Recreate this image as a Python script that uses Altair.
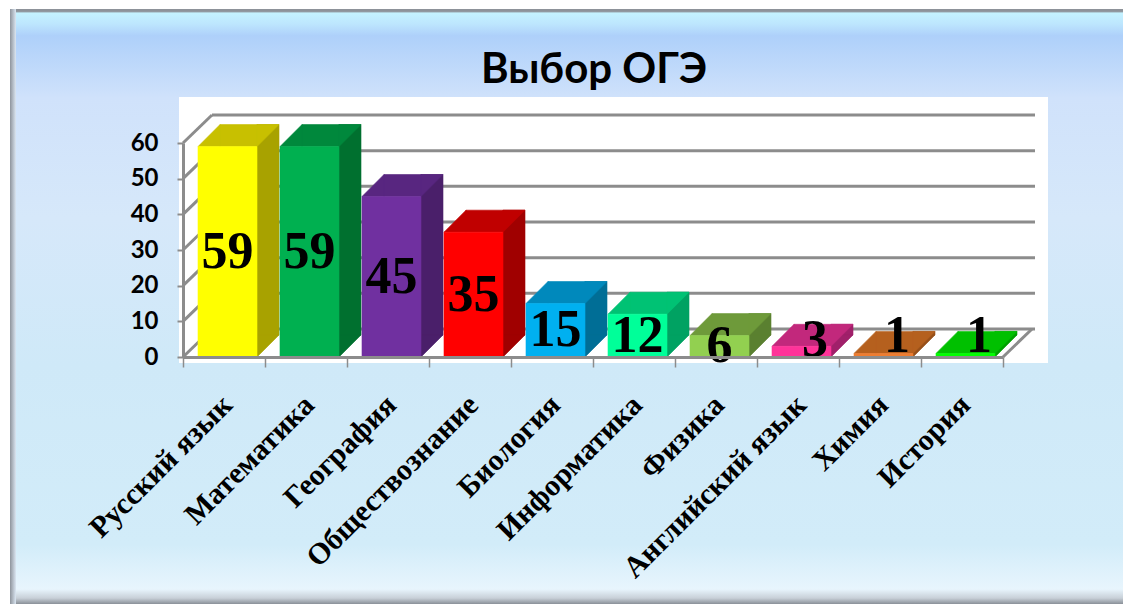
import altair as alt
import pandas as pd

categories = ["Русский язык", "Математика", "География", "Обществознание", "Биология",
              "Информатика", "Физика", "Английский язык", "Химия", "История"]
values = [59, 59, 45, 35, 15, 12, 6, 3, 1, 1]
front_colors = ["#FFFF00", "#00B050", "#7030A0", "#FF0000", "#00B0F0",
                "#00FF99", "#92D050", "#FF3399", "#EE7D31", "#00FF00"]
top_colors = ["#C8C000", "#00883C", "#582680", "#C00000", "#0089BC",
              "#00C274", "#6E9A3A", "#C2287C", "#B5601E", "#00C000"]
side_colors = ["#A8A200", "#00702F", "#4A1F6A", "#A00000", "#006E96",
               "#00A262", "#5A8030", "#A0206A", "#97501A", "#00A000"]
y_ticks = [0, 10, 20, 30, 40, 50, 60]

df = pd.DataFrame({"cat": categories, "value": values, "front": front_colors,
                   "top": top_colors, "side": side_colors})
df["zero"] = 0
# label anchor: middle of the front face, lifted for very short bars
df["lab"] = [v / 2 if v >= 6 else 3 + (6 - v) * 0.6 for v in values]
ticks = pd.DataFrame({"t": y_ticks})

W, H = 820, 214
D = 22          # bar depth in px
WD, WDY = 29, -28  # wall depth

xenc = alt.X("cat:N", sort=categories, title=None,
             scale=alt.Scale(paddingInner=0, paddingOuter=0),
             axis=alt.Axis(labelAngle=-45, labelAlign="right", labelBaseline="middle",
                           labelFont="Liberation Serif", labelFontWeight="bold",
                           labelFontSize=30, labelColor="black", labelPadding=33,
                           labelOffset=3, labelLimit=600, labelOverlap=False,
                           tickBand="extent", tickSize=10, tickColor="#8c8c8c",
                           tickWidth=1.5, domainColor="#8c8c8c", domainWidth=3,
                           grid=False, zindex=1))
yscale = alt.Scale(domain=[0, 60], nice=False)
yaxis = alt.Axis(values=y_ticks, title=None, labelFont="Lato", labelFontWeight="bold",
                 labelFontSize=24, labelColor="black", labelPadding=19, tickSize=6,
                 labelOverlap=False, labelFlush=False, tickCount=7,
                 tickColor="#8c8c8c", tickWidth=2, domainColor="#8c8c8c",
                 domainWidth=3, grid=False, zindex=1)


def Y(field):
    return alt.Y(field, scale=yscale, axis=yaxis, title=None)


bg_grad = alt.LinearGradient(
    gradient="linear", x1=0, x2=0, y1=0, y2=1,
    stops=[alt.GradientStop(color="#8d9299", offset=0),
           alt.GradientStop(color="#8d9299", offset=0.004),
           alt.GradientStop(color="#c4f2ff", offset=0.007),
           alt.GradientStop(color="#bde6fe", offset=0.025),
           alt.GradientStop(color="#aed0fa", offset=0.045),
           alt.GradientStop(color="#d0e2fb", offset=0.15),
           alt.GradientStop(color="#d6e8fa", offset=0.35),
           alt.GradientStop(color="#cfe9f8", offset=0.6),
           alt.GradientStop(color="#d2ecf9", offset=0.9),
           alt.GradientStop(color="#e8f5fd", offset=0.975),
           alt.GradientStop(color="#c8d0d8", offset=0.99),
           alt.GradientStop(color="#8a9098", offset=1)])
side_grad = alt.LinearGradient(
    gradient="linear", x1=0, x2=1, y1=0, y2=0,
    stops=[alt.GradientStop(color="#8e949c", offset=0),
           alt.GradientStop(color="#dbe6f2", offset=1)])

base_bars = alt.Chart(df)

background = alt.Chart(ticks).mark_rect(fill=bg_grad).encode(
    x=alt.value(-173), x2=alt.value(940), y=alt.value(-134), y2=alt.value(461))
left_border = alt.Chart(ticks).mark_rect(fill=side_grad).encode(
    x=alt.value(-173), x2=alt.value(-167), y=alt.value(-134), y2=alt.value(461))
plot_bg = alt.Chart(ticks).mark_rect(fill="white").encode(
    x=alt.value(-4), x2=alt.value(865), y=alt.value(-46), y2=alt.value(220))

back_grid = alt.Chart(ticks).mark_rule(color="#8c8c8c", strokeWidth=3, yOffset=WDY).encode(
    x=alt.value(WD), x2=alt.value(W + WD + 3), y=Y("t:Q"))
left_wall = alt.Chart(ticks).mark_rule(color="#8c8c8c", strokeWidth=3, y2Offset=WDY).encode(
    x=alt.value(0), x2=alt.value(WD), y=Y("t:Q"), y2="t:Q")
floor_edge = alt.Chart(ticks).transform_filter("datum.t == 0").mark_rule(
    color="#8c8c8c", strokeWidth=3, y2Offset=WDY).encode(
    x=alt.value(W), x2=alt.value(W + WD), y=Y("t:Q"), y2="t:Q")

sw = 0.6
side_rect = base_bars.mark_bar(width=D, xOffset=44, yOffset=-D, y2Offset=-D, strokeWidth=sw).encode(
    x=xenc, y=Y("value:Q"), y2="zero:Q",
    fill=alt.Fill("side:N", scale=None), stroke=alt.Stroke("side:N", scale=None))
side_tri = base_bars.mark_point(shape="M -1 -1 L -1 1 L 1 -1 Z", size=D * D, filled=True,
                                opacity=1, strokeWidth=sw, xOffset=44, yOffset=-D / 2).encode(
    x=xenc, y=Y("zero:Q"),
    fill=alt.Fill("side:N", scale=None), stroke=alt.Stroke("side:N", scale=None))
top_rect = base_bars.mark_bar(width=37, xOffset=14.5, yOffset=-D, y2Offset=0, strokeWidth=sw).encode(
    x=xenc, y=Y("value:Q"), y2="value:Q",
    fill=alt.Fill("top:N", scale=None), stroke=alt.Stroke("top:N", scale=None))
top_tri_l = base_bars.mark_point(shape="M -1 1 L 1 -1 L 1 1 Z", size=D * D, filled=True,
                                 opacity=1, strokeWidth=sw, xOffset=-15, yOffset=-D / 2).encode(
    x=xenc, y=Y("value:Q"),
    fill=alt.Fill("top:N", scale=None), stroke=alt.Stroke("top:N", scale=None))
top_tri_r = base_bars.mark_point(shape="M -1 -1 L 1 -1 L -1 1 Z", size=D * D, filled=True,
                                 opacity=1, strokeWidth=sw, xOffset=44, yOffset=-D / 2).encode(
    x=xenc, y=Y("value:Q"),
    fill=alt.Fill("top:N", scale=None), stroke=alt.Stroke("top:N", scale=None))
front = base_bars.mark_bar(width=59, xOffset=3.5, strokeWidth=sw).encode(
    x=xenc, y=Y("value:Q"),
    fill=alt.Fill("front:N", scale=None), stroke=alt.Stroke("front:N", scale=None))

label_style = dict(font="Liberation Serif", fontWeight="bold", fontSize=52,
                   color="black", baseline="middle", align="center")
labels_big = base_bars.transform_filter("datum.value >= 6").mark_text(
    xOffset=3.5, **label_style).encode(
    x=xenc, y=Y("lab:Q"), text="value:Q")
labels_small = base_bars.transform_filter("datum.value < 6").mark_text(
    xOffset=17, **label_style).encode(
    x=xenc, y=Y("lab:Q"), text="value:Q")

title_df = pd.DataFrame({"t": ["Выбор ОГЭ"]})
title = alt.Chart(title_df).mark_text(font="Lato", fontWeight="bold", fontSize=42,
                                      color="black", baseline="alphabetic", align="center").encode(
    x=alt.value(411), y=alt.value(-60), text="t:N")

chart = alt.layer(
    background, left_border, plot_bg, back_grid, left_wall, floor_edge,
    side_rect, side_tri, top_rect, top_tri_l, top_tri_r, front,
    labels_big, labels_small, title
).properties(
    width=W, height=H, autosize="none",
    padding={"left": 175, "top": 135, "right": 120, "bottom": 247}
).configure_view(stroke=None).configure(background="white")

chart.save("out.html", embed_options={"renderer": "svg", "actions": False})
